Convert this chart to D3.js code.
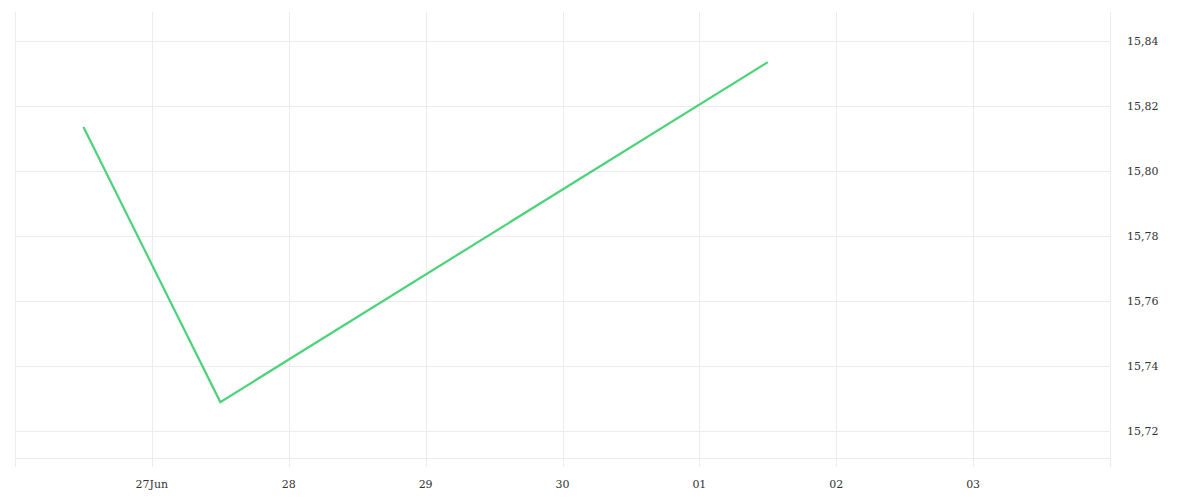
<!DOCTYPE html>
<html><head><meta charset="utf-8">
<script src="https://cdn.jsdelivr.net/npm/d3@7"></script>
<style>
html,body{margin:0;padding:0;background:#fff;}
text{font-family:"DejaVu Serif",serif;}
</style></head>
<body><svg id="c" width="1200" height="500"></svg>
<script>
const dates = ["2020-06-26T12:00:00", "2020-06-27T12:00:00", "2020-07-01T12:00:00"];
const values = [15.8135, 15.7289, 15.8335];
const xDomain = ["2020-06-26T00:00:00", "2020-07-04T00:00:00"];
const yDomain = [15.7117, 15.8489];
const xTicks = ["2020-06-27T00:00:00","2020-06-28T00:00:00","2020-06-29T00:00:00","2020-06-30T00:00:00","2020-07-01T00:00:00","2020-07-02T00:00:00","2020-07-03T00:00:00"];
const xTickLabels = ["27Jun","28","29","30","01","02","03"];
const yTicks = [15.72,15.74,15.76,15.78,15.80,15.82,15.84];

const parse = d3.isoParse;
const L = 15, R = 1110, T = 12, B = 458;
const svg = d3.select("#c");
const x = d3.scaleTime().domain(xDomain.map(parse)).range([L, R]);
const y = d3.scaleLinear().domain(yDomain).range([B, T]);
const grid = "#ececec";

// vertical gridlines
const vLines = [xDomain[0]].concat(xTicks);
svg.append("g").selectAll("line").data(vLines).join("line")
  .attr("x1", d => Math.round(x(parse(d))) + 0.5).attr("x2", d => Math.round(x(parse(d))) + 0.5)
  .attr("y1", T).attr("y2", 467).attr("stroke", grid).attr("stroke-width", 1);
// right border
svg.append("line").attr("x1", R + 0.5).attr("x2", R + 0.5).attr("y1", T).attr("y2", 467)
  .attr("stroke", grid);
// horizontal gridlines
svg.append("g").selectAll("line").data(yTicks).join("line")
  .attr("x1", L).attr("x2", R)
  .attr("y1", d => Math.round(y(d)) + 0.5).attr("y2", d => Math.round(y(d)) + 0.5)
  .attr("stroke", grid);
// bottom line
svg.append("line").attr("x1", L).attr("x2", R).attr("y1", B + 0.5).attr("y2", B + 0.5).attr("stroke", grid);

// x labels
svg.append("g").selectAll("text").data(xTicks).join("text")
  .attr("x", d => x(parse(d))).attr("y", 488)
  .attr("text-anchor", "middle").attr("font-size", 11).attr("fill", "#333")
  .text((d, i) => xTickLabels[i]);
// y labels
const fmt = d => d3.format(".2f")(d).replace(".", ",");
svg.append("g").selectAll("text").data(yTicks).join("text")
  .attr("x", 1127).attr("y", d => y(d) + 4)
  .attr("font-size", 11).attr("fill", "#333")
  .text(fmt);

// line
const pts = dates.map((d, i) => [parse(d), values[i]]);
svg.append("path").datum(pts)
  .attr("fill", "none").attr("stroke", "#4cd27a").attr("stroke-width", 2.2)
  .attr("d", d3.line().x(d => x(d[0])).y(d => y(d[1])));
</script></body></html>
